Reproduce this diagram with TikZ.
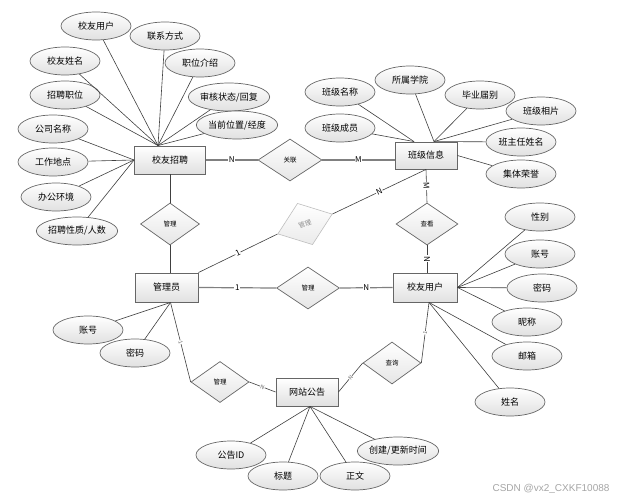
\documentclass[tikz,border=0pt]{standalone}
\usepackage{fontspec}
\setmainfont{Noto Sans CJK SC}
\newfontfamily\wmfont{Liberation Sans}
\usetikzlibrary{shapes.geometric, calc}

\tikzset{
  ent/.style={draw=black!60, line width=0.9pt, top color=white, bottom color=black!12,
    minimum width=64, minimum height=29, inner sep=0pt, font=\fontsize{9}{9}\selectfont},
  attr/.style={ellipse, draw=black!60, line width=0.7pt, top color=white, bottom color=black!12,
    minimum width=70, minimum height=28, inner sep=0pt, font=\fontsize{9}{9}\selectfont},
  rel/.style={diamond, draw=black!60, line width=0.7pt, top color=white, bottom color=black!10,
    minimum width=60, minimum height=42, inner sep=0pt, font=\fontsize{6.5}{6.5}\selectfont},
  relgray/.style={diamond, draw=black!25, line width=0.6pt, top color=white, bottom color=black!8,
    minimum width=58, minimum height=44, inner sep=0pt, text=black!45, font=\fontsize{6.5}{6.5}\selectfont},
  lnk/.style={draw=black!50, line width=1.2pt},
  att/.style={draw=black!75, line width=0.6pt},
  card/.style={fill=white, inner sep=0.6pt, font=\fontsize{8}{8}\selectfont},
  cardsm/.style={fill=white, inner sep=0.3pt, text=black!60, font=\fontsize{5.5}{5.5}\selectfont},
}

\begin{document}
\begin{tikzpicture}[x=1pt, y=-1pt]
  \fill[white] (0,0) rectangle (621,500);

  % entities
  \node[ent, minimum width=71, minimum height=28] (ZP) at (170,160) {校友招聘};
  \node[ent, minimum width=62, minimum height=27] (BJ) at (426,155.5) {班级信息};
  \node[ent, minimum width=63] (GLY) at (166.5,287.5) {管理员};
  \node[ent] (YH) at (425,287.5) {校友用户};
  \node[ent, minimum width=62, minimum height=28] (GG) at (307,392) {网站公告};

  % relations
  \node[rel, minimum width=64] (R1) at (290,160) {关联};
  \node[rel, minimum width=59] (R2) at (170,224) {管理};
  \node[relgray, rotate=20] (R3) at (305,224) {管理};
  \node[rel, minimum width=62] (R4) at (427,224) {查看};
  \node[rel, minimum width=63] (R5) at (308,288) {管理};
  \node[rel, minimum width=58, minimum height=41] (R6) at (220,382) {管理};
  \node[rel, minimum width=58] (R7) at (392,363) {查询};

  % attributes of 校友招聘
  \node[attr] (z1) at (96,26) {校友用户};
  \node[attr] (z2) at (165,36) {联系方式};
  \node[attr] (z3) at (65,61) {校友姓名};
  \node[attr] (z4) at (200,63) {职位介绍};
  \node[attr] (z5) at (65,95) {招聘职位};
  \node[attr] (z6) at (229,97) {审核状态/回复};
  \node[attr] (z7) at (53,129) {公司名称};
  \node[attr] (z8) at (237,125) {当前位置/经度};
  \node[attr] (z9) at (53,162) {工作地点};
  \node[attr] (z10) at (56,197) {办公环境};
  \node[attr] (z11) at (77,231) {招聘性质/人数};

  % attributes of 班级信息
  \node[attr] (b1) at (340,92) {班级名称};
  \node[attr] (b2) at (410,80) {所属学院};
  \node[attr] (b3) at (480,95) {毕业届别};
  \node[attr] (b4) at (541,111) {班级相片};
  \node[attr] (b5) at (340,128) {班级成员};
  \node[attr] (b6) at (521,142) {班主任姓名};
  \node[attr] (b7) at (521,174) {集体荣誉};

  % attributes of 校友用户
  \node[attr] (y1) at (540,217) {性别};
  \node[attr] (y2) at (540,254) {账号};
  \node[attr] (y3) at (542,288) {密码};
  \node[attr] (y4) at (527,322) {昵称};
  \node[attr] (y5) at (527,356) {邮箱};
  \node[attr] (y6) at (510,402) {姓名};

  % attributes of 管理员
  \node[attr] (g1) at (88,330) {账号};
  \node[attr] (g2) at (135,353) {密码};

  % attributes of 网站公告
  \node[attr] (n1) at (231,455) {公告ID};
  \node[attr] (n2) at (283,476) {标题};
  \node[attr] (n3) at (355,476) {正文};
  \node[attr] (n4) at (398,451) {创建/更新时间};

  \coordinate (ZPt) at ($(ZP.north)+(-12,0)$);
  \coordinate (BJt) at ($(BJ.north)+(8,0)$);
  \coordinate (BJl) at ($(BJ.north)+(-12,0)$);
  \coordinate (YHb) at ($(YH.south)+(4,0)$);
  \coordinate (GLYb) at ($(GLY.south)+(4,0)$);
  \coordinate (GGb) at ($(GG.south)+(3,0)$);

  \draw[att] (ZPt) -- (z1);
  \draw[att] (ZPt) -- (z2);
  \draw[att] (ZPt) -- (z3);
  \draw[att] (ZPt) -- (z4);
  \draw[att] (ZPt) -- (z5);
  \draw[att] (ZPt) -- (z6);
  \draw[att] (ZPt) -- (z8);
  \draw[att] (ZP.west) -- (z7);
  \draw[att] (ZP.west) -- (z9);
  \draw[att] (ZP.west) -- (z10);
  \draw[att] (ZP.west) -- (z11);

  \draw[att] (BJl) -- (b1);
  \draw[att] (BJl) -- (b5);
  \draw[att] (BJt) -- (b2);
  \draw[att] (BJt) -- (b3);
  \draw[att] (BJt) -- (b4);
  \draw[att] (BJt) -- (b6);
  \draw[att] (BJ.east) -- (b7);

  \draw[att] (YH.east) -- (y1);
  \draw[att] (YH.east) -- (y2);
  \draw[att] (YH.east) -- (y3);
  \draw[att] (YH.east) -- (y4);
  \draw[att] (YHb) -- (y5);
  \draw[att] (YHb) -- (y6);

  \draw[att] (GLYb) -- (g1);
  \draw[att] (GLYb) -- (g2);

  \draw[att] (GGb) -- (n1);
  \draw[att] (GGb) -- (n2);
  \draw[att] (GGb) -- (n3);
  \draw[att] (GGb) -- (n4);

  % relationship lines
  \draw[lnk] (ZP.east) -- node[card] {N} (R1.west);
  \draw[lnk] (R1.east) -- node[card] {M} (R1.east -| BJ.west);
  \draw[att] (ZP.south) -- (R2.north);
  \draw[att] (R2.south) -- (R2.south |- GLY.north);
  \draw[att] (GLY.north east) -- node[card, sloped] {1} (R3.west);
  \draw[att] (R3.east) -- node[card, sloped] {N} (BJ.south);
  \draw[att] (BJ.south) -- node[card, sloped] {M} (R4.north);
  \draw[att] (R4.south) -- node[card, sloped] {N} (R4.south |- YH.north);
  \draw[lnk] (GLY.east) -- node[card] {1} (R5.west);
  \draw[lnk] (R5.east) -- node[card] {N} (YH.west);
  \draw[att] (GLYb) -- node[cardsm, sloped] {1} (R6.west);
  \draw[att] (R6.east) -- node[cardsm, sloped] {N} (GG.west);
  \draw[att] (GG.east) -- node[cardsm, sloped] {N} (R7.west);
  \draw[att] (R7.east) -- node[cardsm, sloped] {1} (YHb);

  \node[anchor=east, text=black!35, font=\wmfont\fontsize{10}{10}\selectfont] (wm) at (613,489) {CSDN @vx2\_CXKF10088};
\end{tikzpicture}
\end{document}
